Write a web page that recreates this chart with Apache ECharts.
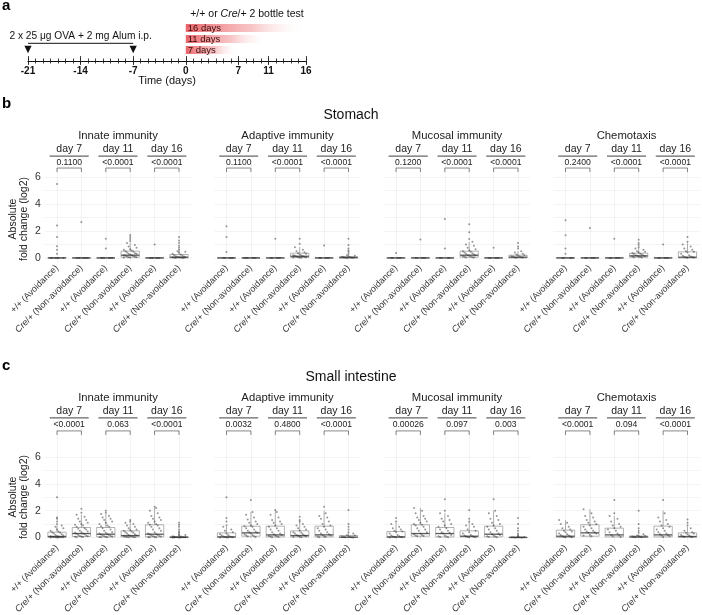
<!DOCTYPE html>
<html><head><meta charset="utf-8">
<script src="https://cdn.jsdelivr.net/npm/echarts@6/dist/echarts.min.js"></script>
<style>html,body{margin:0;padding:0;background:#fff}#c{width:702px;height:615px}</style>
</head><body><div id="c"></div>
<script>
const FF = "'Liberation Sans', Arial, Helvetica, sans-serif";

// ---------------- data ----------------
const timelineTicks = [-21, -14, -7, 0, 7, 11, 16];
const injectionDays = [-21, -7];
const testLabels = ['16 days', '11 days', '7 days'];
const testDurations = [16, 11, 7];
const groupNames = ['Innate immunity', 'Adaptive immunity', 'Mucosal immunity', 'Chemotaxis'];
const dayLabels = ['day 7', 'day 11', 'day 16'];
const genotypeLabels = ['+/+ (Avoidance)', 'Cre/+ (Non-avoidance)'];
const yTickLabels = [0, 2, 4, 6];

const pStomach = [
  ['0.1100', '<0.0001', '<0.0001'],
  ['0.1100', '<0.0001', '<0.0001'],
  ['0.1200', '<0.0001', '<0.0001'],
  ['0.2400', '<0.0001', '<0.0001']
];
const pSmall = [
  ['<0.0001', '0.063', '<0.0001'],
  ['0.0032', '0.4800', '<0.0001'],
  ['0.00026', '0.097', '0.003'],
  ['<0.0001', '0.094', '<0.0001']
];

// box stats: [min, Q1, median, Q3, upper whisker]
const stomachInnateBox = [[0,0,0,0,0],[0,0,0,0,0],[0,0,0,0,0],[0,0.05,0.2,0.5,1.15],[0,0,0,0,0],[0,0,0.05,0.25,0.55]];
const stomachAdaptiveBox = [[0,0,0,0,0],[0,0,0,0,0],[0,0,0,0,0],[0,0.03,0.12,0.35,0.8],[0,0,0,0,0],[0,0,0.02,0.1,0.25]];
const stomachMucosalBox = [[0,0,0,0,0],[0,0,0,0,0],[0,0,0,0,0],[0,0.05,0.2,0.5,1.2],[0,0,0,0,0],[0,0,0.05,0.2,0.5]];
const stomachChemoBox = [[0,0,0,0,0],[0,0,0,0,0],[0,0,0,0,0],[0,0.05,0.15,0.35,0.75],[0,0,0,0,0],[0,0,0.05,0.45,1.1]];

const stomachInnatePts = [
  [5.5,2.4,1.55,0.86,0.6,0.3,0,0,0,0,0,0],
  [2.67,0,0,0,0,0,0,0],
  [1.43,0.69,0,0,0,0,0,0],
  [1.7,1.55,1.4,1.25,1.1,0.95,0.85,0.75,0.65,0.6,0.55,0.5,0.45,0.4,0.35,0.3,0.3,0.25,0.2,0.2,0.15,0.12,0.1,0.08,0.05,0.05,0.03,0.02],
  [1.0,0,0,0,0,0,0],
  [1.55,1.3,1.1,0.9,0.75,0.6,0.5,0.45,0.4,0.3,0.25,0.2,0.15,0.12,0.1,0.08,0.06,0.05,0.04,0.03,0.02,0.01,0,0]
];
const stomachAdaptivePts = [
  [2.35,1.55,0.43,0,0,0,0,0],
  [0,0,0,0,0,0],
  [1.43,0,0,0,0,0],
  [1.43,1.05,0.8,0.6,0.5,0.42,0.35,0.3,0.25,0.2,0.18,0.15,0.12,0.1,0.08,0.05,0.04,0.03,0.02,0.01],
  [0.93,0,0,0,0,0],
  [1.43,0.95,0.7,0.55,0.45,0.3,0.2,0.15,0.1,0.08,0.05,0.04,0.03,0.02,0.01,0]
];
const stomachMucosalPts = [
  [0.36,0,0,0,0,0],
  [1.36,0,0,0,0,0],
  [2.9,0.69,0,0,0,0],
  [2.5,1.9,1.4,1.2,1.0,0.9,0.75,0.65,0.55,0.5,0.45,0.4,0.35,0.3,0.25,0.2,0.18,0.15,0.12,0.1,0.08,0.05,0.03,0.02],
  [0.76,0,0,0,0,0],
  [1.1,0.85,0.7,0.5,0.4,0.3,0.25,0.2,0.15,0.12,0.1,0.08,0.05,0.03,0.02,0.01]
];
const stomachChemoPts = [
  [2.8,1.68,0.69,0.3,0,0,0,0],
  [2.22,0,0,0,0,0],
  [1.43,0,0,0,0,0],
  [1.35,1.1,0.95,0.8,0.7,0.6,0.5,0.45,0.4,0.35,0.3,0.3,0.25,0.2,0.18,0.15,0.12,0.1,0.1,0.08,0.05,0.03],
  [1.0,0,0,0,0,0],
  [1.55,1.2,1.0,0.85,0.7,0.6,0.5,0.45,0.4,0.3,0.2,0.15,0.1,0.08,0.05,0.03,0.02,0.01]
];

const smallInnateBox = [[0,0.02,0.08,0.4,0.9],[0,0.08,0.3,0.75,1.7],[0,0.05,0.25,0.75,1.75],[0,0.05,0.15,0.5,1.15],[0,0.05,0.25,0.95,2.2],[0,0,0.02,0.08,0.2]];
const smallAdaptiveBox = [[0,0.02,0.05,0.35,0.8],[0,0.1,0.35,0.85,1.9],[0,0.05,0.2,0.85,2.0],[0,0.05,0.15,0.5,1.15],[0,0.05,0.2,0.85,2.0],[0,0,0.03,0.15,0.35]];
const smallMucosalBox = [[0,0.02,0.05,0.45,1.1],[0,0.1,0.3,0.95,2.2],[0,0.05,0.3,0.75,1.8],[0,0.05,0.1,0.5,1.15],[0,0.05,0.25,0.85,2.0],[0,0,0.01,0.03,0.07]];
const smallChemoBox = [[0,0.02,0.1,0.55,1.3],[0,0.1,0.35,0.95,2.1],[0,0.05,0.2,0.7,1.6],[0,0.02,0.05,0.12,0.25],[0,0.05,0.2,0.85,2.0],[0,0.02,0.08,0.35,0.8]];

const smallInnatePts = [
  [3.0,1.5,1.4,1.2,1.0,0.9,0.8,0.7,0.6,0.5,0.45,0.4,0.35,0.3,0.25,0.2,0.15,0.12,0.1,0.08,0.06,0.05,0.04,0.03,0.02,0.02,0.01,0.01,0],
  [2.15,1.85,1.7,1.55,1.4,1.3,1.2,1.1,1.0,0.95,0.9,0.8,0.7,0.65,0.6,0.5,0.45,0.4,0.35,0.3,0.28,0.25,0.2,0.15,0.12,0.1,0.08,0.06,0.05,0.03],
  [2.0,1.85,1.75,1.6,1.5,1.4,1.3,1.2,1.1,1.0,0.9,0.85,0.8,0.7,0.6,0.5,0.4,0.35,0.3,0.25,0.22,0.2,0.15,0.12,0.1,0.08,0.06,0.05,0.03,0.02],
  [1.3,1.2,1.1,1.0,0.9,0.8,0.7,0.6,0.55,0.5,0.45,0.4,0.35,0.3,0.25,0.2,0.15,0.12,0.1,0.08,0.06,0.05,0.04,0.03,0.02],
  [2.3,2.2,2.0,1.8,1.6,1.5,1.4,1.3,1.2,1.1,1.0,0.95,0.9,0.8,0.7,0.6,0.5,0.4,0.3,0.25,0.22,0.2,0.15,0.12,0.1,0.08,0.06,0.05,0.03,0.02],
  [1.1,0.95,0.8,0.6,0.45,0.35,0.25,0.2,0.15,0.1,0.08,0.06,0.05,0.04,0.03,0.02,0.02,0.01,0.01,0,0]
];
const smallAdaptivePts = [
  [3.0,1.45,1.2,0.9,0.8,0.6,0.5,0.4,0.3,0.25,0.2,0.15,0.1,0.08,0.05,0.04,0.03,0.02,0.01,0],
  [2.8,1.9,1.7,1.5,1.35,1.2,1.1,1.0,0.9,0.85,0.8,0.7,0.6,0.5,0.45,0.4,0.35,0.3,0.25,0.2,0.15,0.1,0.08,0.05],
  [2.05,1.9,1.7,1.5,1.3,1.2,1.1,1.0,0.9,0.8,0.7,0.6,0.5,0.4,0.3,0.25,0.2,0.15,0.12,0.1,0.08,0.05,0.03],
  [1.55,1.3,1.2,1.0,0.9,0.8,0.7,0.6,0.5,0.4,0.35,0.3,0.25,0.2,0.15,0.12,0.1,0.08,0.05,0.03],
  [2.3,1.8,1.6,1.5,1.4,1.2,1.0,0.9,0.8,0.7,0.6,0.5,0.4,0.3,0.25,0.2,0.15,0.1,0.08,0.05,0.03],
  [2.05,1.0,0.8,0.6,0.4,0.3,0.2,0.15,0.1,0.08,0.05,0.04,0.03,0.02,0.01]
];
const smallMucosalPts = [
  [1.45,1.2,1.0,0.8,0.7,0.6,0.5,0.45,0.4,0.3,0.2,0.15,0.1,0.08,0.05,0.04,0.03,0.02,0.01],
  [2.2,2.0,1.8,1.6,1.5,1.4,1.3,1.2,1.1,1.0,0.95,0.9,0.8,0.7,0.6,0.5,0.4,0.3,0.25,0.2,0.15,0.12,0.1],
  [2.85,2.0,1.8,1.6,1.4,1.3,1.2,1.0,0.9,0.8,0.7,0.6,0.5,0.4,0.35,0.3,0.2,0.15,0.1,0.08,0.05,0.03],
  [2.05,1.4,1.2,1.0,0.9,0.8,0.6,0.5,0.4,0.3,0.2,0.15,0.1,0.08,0.05,0.04,0.03,0.02],
  [2.85,2.0,1.8,1.6,1.4,1.3,1.1,1.0,0.9,0.8,0.7,0.6,0.5,0.4,0.3,0.25,0.2,0.15,0.1,0.08,0.05,0.03],
  [1.45,1.0,0.7,0.5,0.3,0.2,0.1,0.05,0.04,0.03,0.02,0.02,0.01,0.01,0,0]
];
const smallChemoPts = [
  [1.3,1.1,1.0,0.8,0.7,0.6,0.5,0.45,0.4,0.3,0.25,0.2,0.15,0.1,0.08,0.05,0.03,0.02],
  [2.1,1.8,1.6,1.5,1.3,1.2,1.1,1.0,0.9,0.8,0.7,0.6,0.5,0.45,0.4,0.35,0.3,0.2,0.15,0.1],
  [2.8,1.8,1.6,1.4,1.2,1.0,0.9,0.8,0.7,0.6,0.5,0.4,0.3,0.2,0.15,0.1,0.05],
  [2.0,1.0,0.7,0.5,0.35,0.25,0.15,0.12,0.1,0.08,0.05,0.04,0.03,0.02],
  [2.8,1.8,1.5,1.3,1.2,1.0,0.9,0.8,0.7,0.6,0.5,0.4,0.3,0.25,0.2,0.15,0.1,0.05],
  [1.35,1.1,0.9,0.7,0.5,0.4,0.35,0.3,0.25,0.2,0.15,0.1,0.08,0.05,0.03]
];

// ---------------- layout ----------------
const PX = 13.45, YMIN = -0.35;
const GL = [44.8, 214.3, 383.8, 553.3], GW = 146.4;
const sections = [
  { boxes: [stomachInnateBox, stomachAdaptiveBox, stomachMucosalBox, stomachChemoBox],
    pts: [stomachInnatePts, stomachAdaptivePts, stomachMucosalPts, stomachChemoPts],
    p: pStomach, title: 'Stomach', letter: 'b',
    top: 159.7, max: 7.3, yBr: 6.68, yTxt: 7.05, nameY: 219 },
  { boxes: [smallInnateBox, smallAdaptiveBox, smallMucosalBox, smallChemoBox],
    pts: [smallInnatePts, smallAdaptivePts, smallMucosalPts, smallChemoPts],
    p: pSmall, title: 'Small intestine', letter: 'c',
    top: 421.5, max: 8.63, yBr: 7.93, yTxt: 8.37, nameY: 497 }
];

const grids = [], xAxes = [], yAxes = [], series = [], graphics = [];
const tickLine = { color: '#111', width: 0.8 };

// ---- panel a ----
grids.push({ left: 28, top: 60, width: 278, height: 1, containLabel: false, outerBoundsMode: 'none' });
grids.push({ left: 28, top: 60, width: 278, height: 1, containLabel: false, outerBoundsMode: 'none' });
grids.push({ left: 28, top: 22.5, width: 278, height: 33, containLabel: false, outerBoundsMode: 'none' });
xAxes.push({ gridIndex: 0, type: 'value', position: 'bottom', min: -21, max: 16, interval: 1,
  axisLine: { show: true, onZero: false, lineStyle: { color: '#111', width: 1 } },
  axisTick: { show: true, length: 2.5, lineStyle: tickLine },
  axisLabel: { show: true, customValues: timelineTicks, fontSize: 10, fontWeight: 'bold', color: '#111', margin: 5, fontFamily: FF },
  splitLine: { show: false } });
xAxes.push({ gridIndex: 0, type: 'value', position: 'top', min: -21, max: 16, interval: 1,
  axisLine: { show: false }, axisTick: { show: true, length: 2.5, lineStyle: tickLine },
  axisLabel: { show: false }, splitLine: { show: false } });
xAxes.push({ gridIndex: 1, type: 'value', position: 'bottom', min: -21, max: 16,
  axisLine: { show: false }, axisTick: { show: true, length: 4, customValues: timelineTicks, lineStyle: tickLine },
  axisLabel: { show: false }, splitLine: { show: false } });
xAxes.push({ gridIndex: 1, type: 'value', position: 'top', min: -21, max: 16,
  axisLine: { show: false }, axisTick: { show: true, length: 4, customValues: timelineTicks, lineStyle: tickLine },
  axisLabel: { show: false }, splitLine: { show: false } });
xAxes.push({ gridIndex: 2, type: 'value', min: -21, max: 16, show: false });
yAxes.push({ gridIndex: 0, type: 'value', min: 0, max: 1, show: false });
yAxes.push({ gridIndex: 1, type: 'value', min: 0, max: 1, show: false });
yAxes.push({ gridIndex: 2, type: 'category', data: testLabels, inverse: true, show: false });

series.push({ type: 'custom', xAxisIndex: 0, yAxisIndex: 0, silent: true, z: 5,
  data: [[injectionDays[0], injectionDays[1]]], encode: { x: [0, 1] },
  renderItem: function (params, api) {
    const p0 = api.coord([api.value(0), 0]);
    const p1 = api.coord([api.value(1), 0]);
    const base = p0[1];
    const tri = x => ({ type: 'polygon', shape: { points: [[x - 3.6, base - 15.3], [x + 3.6, base - 15.3], [x, base - 7.8]] }, style: { fill: '#111' } });
    return { type: 'group', children: [
      tri(p0[0]), tri(p1[0]),
      { type: 'line', shape: { x1: p0[0], y1: base - 17.7, x2: p1[0], y2: base - 17.7 }, style: { stroke: '#111', lineWidth: 1 } },
      { type: 'text', style: { x: (p0[0] + p1[0]) / 2, y: base - 25, text: '2 x 25 \u03bcg OVA + 2 mg Alum i.p.', align: 'center', verticalAlign: 'middle', textAlign: 'center', textVerticalAlign: 'middle', fontSize: 10.2, fill: '#111', fontFamily: FF } }
    ] };
  } });
series.push({ type: 'bar', xAxisIndex: 4, yAxisIndex: 2, data: testDurations, barWidth: 8, silent: true,
  itemStyle: { color: new echarts.graphic.LinearGradient(0, 0, 1, 0, [
    { offset: 0, color: 'rgba(232,88,94,0.92)' },
    { offset: 0.55, color: 'rgba(242,150,152,0.55)' },
    { offset: 1, color: 'rgba(255,255,255,0)' }]) },
  label: { show: true, position: 'insideLeft', distance: 2, formatter: p => testLabels[p.dataIndex], fontSize: 9.5, color: '#3b0d0d', fontFamily: FF } });

graphics.push({ type: 'text', x: 2, y: 6, style: { text: 'a', fontSize: 15, fontWeight: 'bold', fill: '#000', fontFamily: FF, align: 'left', verticalAlign: 'middle', textAlign: 'left', textVerticalAlign: 'middle' } });
graphics.push({ type: 'text', x: 247, y: 14, style: { text: '+/+ or {i|Cre}/+ 2 bottle test', rich: { i: { fontStyle: 'italic', fontSize: 10.5, fontFamily: FF, fill: '#111' } }, fontSize: 10.5, fill: '#111', fontFamily: FF, align: 'center', verticalAlign: 'middle', textAlign: 'center', textVerticalAlign: 'middle' } });
graphics.push({ type: 'text', x: 167, y: 81, style: { text: 'Time (days)', fontSize: 11, fill: '#111', fontFamily: FF, align: 'center', verticalAlign: 'middle', textAlign: 'center', textVerticalAlign: 'middle' } });

// ---- panels b, c ----
function jitter(j) { return (((j * 5) % 9) - 4) * 0.065; }

function boxRender(params, api) {
  const i = api.value(0);
  const w = api.size([1, 0])[0] * 0.75;
  const x = api.coord([i, api.value(3)])[0];
  const yv = k => api.coord([i, api.value(k)])[1];
  const yMn = yv(1), yQ1 = yv(2), yMd = yv(3), yQ3 = yv(4), yMx = yv(5);
  const st = { stroke: '#808080', lineWidth: 0.6 };
  return { type: 'group', children: [
    { type: 'line', shape: { x1: x, y1: yQ3, x2: x, y2: yMx }, style: st },
    { type: 'line', shape: { x1: x, y1: yQ1, x2: x, y2: yMn }, style: st },
    { type: 'rect', shape: { x: x - w / 2, y: yQ3, width: w, height: Math.max(yQ1 - yQ3, 0) }, style: { stroke: '#808080', lineWidth: 0.6, fill: 'rgba(255,255,255,0.3)' } },
    { type: 'line', shape: { x1: x - w / 2, y1: yMd, x2: x + w / 2, y2: yMd }, style: { stroke: '#5a5a5a', lineWidth: 1.3 } }
  ] };
}

function annotRender(pList, L) {
  return function (params, api) {
    const k = params.dataIndex;
    const band = api.size([1, 0])[0];
    const c0 = api.coord([2 * k, L.yBr]);
    const c1 = api.coord([2 * k + 1, L.yBr]);
    const yTick = api.coord([2 * k, L.yBr - 0.3])[1];
    const yTxt = api.coord([2 * k, L.yTxt])[1];
    const cs = params.coordSys;
    const mid = (c0[0] + c1[0]) / 2;
    return { type: 'group', children: [
      { type: 'polyline', shape: { points: [[c0[0], yTick], [c0[0], c0[1]], [c1[0], c1[1]], [c1[0], yTick]] }, style: { stroke: '#555', lineWidth: 0.7, fill: null } },
      { type: 'text', style: { x: mid, y: yTxt, text: pList[k], align: 'center', verticalAlign: 'middle', textAlign: 'center', textVerticalAlign: 'middle', fontSize: 8.6, fill: '#222', fontFamily: FF } },
      { type: 'line', shape: { x1: c0[0] - 0.3 * band, y1: cs.y - 3.6, x2: c1[0] + 0.3 * band, y2: cs.y - 3.6 }, style: { stroke: '#666', lineWidth: 1.4 } },
      { type: 'text', style: { x: mid, y: cs.y - 10.3, text: dayLabels[k], align: 'center', verticalAlign: 'middle', textAlign: 'center', textVerticalAlign: 'middle', fontSize: 10.5, fill: '#222', fontFamily: FF } }
    ] };
  };
}

sections.forEach((L, s) => {
  graphics.push({ type: 'text', x: 2, y: L.top - 55.7, style: { text: L.letter, fontSize: 15, fontWeight: 'bold', fill: '#000', fontFamily: FF, align: 'left', verticalAlign: 'middle', textAlign: 'left', textVerticalAlign: 'middle' } });
  graphics.push({ type: 'text', x: 351, y: L.top - 44.7, style: { text: L.title, fontSize: 14, fill: '#111', fontFamily: FF, align: 'center', verticalAlign: 'middle', textAlign: 'center', textVerticalAlign: 'middle' } });
  graphics.push({ type: 'text', x: 13, y: L.nameY, rotation: Math.PI / 2, style: { text: 'Absolute', fontSize: 10.5, fill: '#222', fontFamily: FF, align: 'center', verticalAlign: 'middle', textAlign: 'center', textVerticalAlign: 'middle' } });
  graphics.push({ type: 'text', x: 24.5, y: L.nameY, rotation: Math.PI / 2, style: { text: 'fold change (log2)', fontSize: 10.5, fill: '#222', fontFamily: FF, align: 'center', verticalAlign: 'middle', textAlign: 'center', textVerticalAlign: 'middle' } });

  groupNames.forEach((gname, g) => {
    const gi = grids.length;
    grids.push({ left: GL[g], top: L.top, width: GW, height: (L.max - YMIN) * PX, containLabel: false, outerBoundsMode: 'none' });
    graphics.push({ type: 'text', x: GL[g] + GW / 2, y: L.top - 24, style: { text: gname, fontSize: 11.3, fill: '#222', fontFamily: FF, align: 'center', verticalAlign: 'middle', textAlign: 'center', textVerticalAlign: 'middle' } });

    const ci = xAxes.length;
    xAxes.push({ gridIndex: gi, type: 'category', position: 'bottom', data: ['0', '1', '2', '3', '4', '5'], boundaryGap: true,
      axisLine: { show: false }, axisTick: { show: false }, splitLine: { show: false },
      axisLabel: { show: true, interval: 0, rotate: 45, margin: 4, fontSize: 9, color: '#333', fontFamily: FF, hideOverlap: false,
        formatter: (v, i) => i % 2 === 0 ? genotypeLabels[0] : genotypeLabels[1].replace('Cre', '{i|Cre}'),
        rich: { i: { fontStyle: 'italic', fontSize: 9, color: '#333', fontFamily: FF } } } });
    const vi = xAxes.length;
    xAxes.push({ gridIndex: gi, type: 'value', position: 'top', min: -0.5, max: 5.5,
      axisLine: { show: false }, axisTick: { show: false, customValues: [0, 1, 2, 3, 4, 5] }, axisLabel: { show: false },
      splitLine: { show: true, lineStyle: { color: '#ebebeb', width: 0.6 } } });
    const yi = yAxes.length;
    yAxes.push({ gridIndex: gi, type: 'value', min: YMIN, max: L.max,
      axisLine: { show: false }, axisTick: { show: false, customValues: [0, 1, 2, 3, 4, 5, 6] },
      axisLabel: { show: g === 0, customValues: yTickLabels, fontSize: 10.5, color: '#333', margin: 4, fontFamily: FF },
      splitLine: { show: true, lineStyle: { color: '#ebebeb', width: 0.6 } } });

    const boxes = L.boxes[g];
    const pts = L.pts[g];
    series.push({ type: 'custom', xAxisIndex: ci, yAxisIndex: yi, z: 2, silent: true,
      data: boxes.map((b, i) => [i].concat(b)), encode: { x: 0, y: [1, 2, 3, 4, 5] }, renderItem: boxRender });
    const sc = [];
    pts.forEach((arr, i) => arr.forEach((v, j) => {
      sc.push([i + (v > boxes[i][4] ? 0 : jitter(j)), v]);
    }));
    series.push({ type: 'scatter', xAxisIndex: vi, yAxisIndex: yi, z: 3, silent: true, symbolSize: 2,
      itemStyle: { color: 'rgba(35,35,35,0.6)' }, data: sc });
    series.push({ type: 'custom', xAxisIndex: ci, yAxisIndex: yi, z: 4, silent: true,
      data: dayLabels.map((d, k) => [2 * k, 0]), encode: { x: 0, y: 1 }, renderItem: annotRender(L.p[g], L) });
  });
});

const chart = echarts.init(document.getElementById('c'), null, { renderer: 'canvas' });
chart.setOption({
  animation: false,
  backgroundColor: '#fff',
  textStyle: { fontFamily: FF },
  grid: grids, xAxis: xAxes, yAxis: yAxes, series: series, graphic: graphics
});
</script></body></html>
